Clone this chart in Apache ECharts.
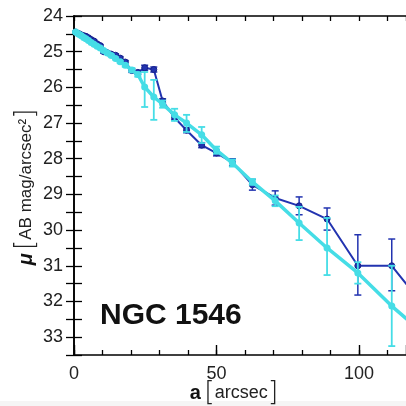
<!DOCTYPE html>
<html>
<head>
<meta charset="utf-8">
<script src="https://cdn.jsdelivr.net/npm/echarts@6/dist/echarts.min.js"></script>
<style>html,body{margin:0;padding:0;background:#fff;}#c{width:406px;height:406px;}</style>
</head>
<body>
<div id="c"></div>
<script>
// Semi-major axis radius (arcsec)
var radius = [0.6,1.2,1.9,2.6,3.4,4.2,5.1,6.0,7.0,8.1,9.2,10.4,11.7,13.1,14.6,16.2,18.0,20.3,22.4,24.8,28.0,31.1,35.3,39.5,44.8,50.0,55.6,62.6,70.6,79.0,88.8,99.6,111.5,122.0];
// Dark blue profile (mu, AB mag/arcsec^2) and error bar limits
var blueMu    = [24.45,24.48,24.50,24.53,24.55,24.57,24.61,24.66,24.70,24.78,24.83,25.00,25.03,25.07,25.10,25.18,25.29,25.53,25.58,25.45,25.50,26.38,26.85,27.20,27.62,27.84,28.10,28.73,29.10,29.32,29.69,31.00,31.00,32.05];
var blueLo    = [24.43,24.46,24.48,24.51,24.53,24.55,24.59,24.64,24.67,24.75,24.80,24.96,24.99,25.03,25.06,25.14,25.25,25.48,25.53,25.38,25.43,26.32,26.79,27.13,27.55,27.76,28.00,28.58,28.90,29.07,29.38,30.13,30.25,null];
var blueHi    = [24.47,24.50,24.52,24.55,24.57,24.59,24.63,24.68,24.73,24.81,24.86,25.04,25.07,25.11,25.14,25.22,25.33,25.58,25.63,25.52,25.57,26.44,26.91,27.27,27.69,27.92,28.20,28.88,29.30,29.57,30.00,31.82,31.70,null];
// Cyan profile and error bar limits
var cyanMu    = [24.45,24.48,24.52,24.55,24.60,24.64,24.69,24.74,24.79,24.85,24.90,24.97,25.04,25.11,25.19,25.28,25.38,25.51,25.64,25.99,26.27,26.47,26.77,27.00,27.33,27.76,28.12,28.65,29.18,29.80,30.50,31.20,32.13,32.85];
var cyanLo    = [24.43,24.46,24.50,24.53,24.58,24.62,24.67,24.72,24.77,24.83,24.88,24.94,25.01,25.08,25.16,25.25,25.34,25.46,25.58,25.57,25.79,26.37,26.60,26.77,27.11,27.66,28.02,28.57,29.03,29.35,29.66,30.90,31.00,null];
var cyanHi    = [24.47,24.50,24.54,24.57,24.62,24.66,24.71,24.76,24.81,24.87,24.92,25.00,25.07,25.14,25.22,25.31,25.42,25.56,25.70,26.55,26.91,26.57,26.94,27.25,27.56,27.86,28.22,28.73,29.33,30.28,31.26,31.50,33.25,null];
var yTicks = [24,25,26,27,28,29,30,31,32,33];
var xTicks = [0,50,100];

var BLUE = '#2233b0', CYAN = '#45dde6';
var FONT = 'Liberation Sans, Arial, sans-serif';

function pts(y){ return radius.map(function(r,i){ return [r, y[i]]; }); }
function errs(lo, hi){
  var out = [];
  radius.forEach(function(r,i){ if (lo[i] != null && hi[i] != null) out.push([r, lo[i], hi[i]]); });
  return out;
}
function errRender(color, cap, lw){
  return function(params, api){
    var x = api.value(0);
    var a = api.coord([x, api.value(1)]);
    var b = api.coord([x, api.value(2)]);
    var st = {stroke: color, lineWidth: lw};
    return {type:'group', children:[
      {type:'line', shape:{x1:a[0],y1:a[1],x2:b[0],y2:b[1]}, style:st},
      {type:'line', shape:{x1:a[0]-cap,y1:a[1],x2:a[0]+cap,y2:a[1]}, style:st},
      {type:'line', shape:{x1:b[0]-cap,y1:b[1],x2:b[0]+cap,y2:b[1]}, style:st}
    ]};
  };
}
function isInt(v){ return Math.abs(v - Math.round(v)) < 1e-6; }

var XMAX = 116.5, YMIN = 24, YMAX = 33.5;
var axisLine = {show:true, lineStyle:{color:'#000', width:1.6}};
var chart = echarts.init(document.getElementById('c'));
chart.setOption({
  animation: false,
  backgroundColor: '#fff',
  grid: {left:74, top:16, width:333, height:339, containLabel:false},
  xAxis: [
    {type:'value', position:'bottom', min:0, max:XMAX, interval:10, splitLine:{show:false},
     axisLine: axisLine,
     axisTick:{inside:true, length:5, lineStyle:{color:'#000', width:1.3}},
     axisLabel:{interval:0, margin:10, color:'#222', fontSize:18, fontFamily:FONT, showMaxLabel:false,
       formatter:function(v){ return xTicks.indexOf(Math.round(v)) >= 0 && isInt(v) ? String(Math.round(v)) : ''; }}},
    {type:'value', position:'bottom', min:0, max:XMAX, interval:50, splitLine:{show:false},
     axisLine:{show:false}, axisTick:{inside:true, length:10, lineStyle:{color:'#000', width:1.4}},
     axisLabel:{show:false}},
    {type:'value', position:'top', min:0, max:XMAX, interval:10, splitLine:{show:false},
     axisLine: axisLine, axisTick:{inside:true, length:5, lineStyle:{color:'#000', width:1.3}},
     axisLabel:{show:false}}
  ],
  yAxis: [
    {type:'value', position:'left', inverse:true, min:YMIN, max:YMAX, interval:0.5, splitLine:{show:false},
     axisLine: axisLine, axisTick:{inside:true, length:8, lineStyle:{color:'#000', width:1.3}},
     axisLabel:{interval:0, margin:11, color:'#222', fontSize:18, fontFamily:FONT,
       formatter:function(v){ return (isInt(v) && yTicks.indexOf(Math.round(v)) >= 0) ? String(Math.round(v)) : ''; }}},
    {type:'value', position:'right', inverse:true, min:YMIN, max:YMAX, interval:0.5, splitLine:{show:false},
     axisLine: axisLine, axisTick:{inside:true, length:8, lineStyle:{color:'#000', width:1.3}},
     axisLabel:{show:false}}
  ],
  series: [
    {type:'custom', name:'blueErr', xAxisIndex:0, yAxisIndex:0, data: errs(blueLo, blueHi),
     encode:{x:0, y:[1,2]}, renderItem: errRender(BLUE, 3.5, 1.5), z:2},
    {type:'line', name:'blue', xAxisIndex:0, yAxisIndex:0, data: pts(blueMu),
     lineStyle:{color:BLUE, width:2}, itemStyle:{color:BLUE, borderColor:'#16208a', borderWidth:1},
     symbol:'circle', symbolSize:6, z:3},
    {type:'custom', name:'cyanErr', xAxisIndex:0, yAxisIndex:0, data: errs(cyanLo, cyanHi),
     encode:{x:0, y:[1,2]}, renderItem: errRender(CYAN, 3.5, 1.8), z:4},
    {type:'line', name:'cyan', xAxisIndex:0, yAxisIndex:0, data: pts(cyanMu),
     lineStyle:{color:CYAN, width:3.5}, itemStyle:{color:CYAN},
     symbol:'circle', symbolSize:7, z:5}
  ],
  graphic: [
    {type:'rect', left:0, top:401, shape:{width:406, height:5}, style:{fill:'#f5f5f5'}, z:-1},
    {type:'text', x:100, y:316, style:{text:'NGC 1546', font:'bold 30px ' + FONT, fill:'#111', verticalAlign:'middle', align:'left'}, z:10},
    {type:'text', x:234, y:393, style:{
       text:'{b|a} {br|[}{n|arcsec}{br|]}', align:'center', verticalAlign:'middle',
       rich:{ b:{font:'bold 20px ' + FONT, fill:'#111'}, br:{font:'200 27px DejaVu Sans, sans-serif', fill:'#222'}, n:{font:'18px ' + FONT, fill:'#222'} }}, z:10},
    {type:'text', x:26, y:187, rotation:Math.PI/2, style:{
       text:'{b|μ} {br|[}{n|AB mag/arcsec²}{br|]}', align:'center', verticalAlign:'middle',
       rich:{ b:{font:'bold italic 20px ' + FONT, fill:'#111'}, br:{font:'200 26px DejaVu Sans, sans-serif', fill:'#222'}, n:{font:'17px ' + FONT, fill:'#222'} }}, z:10}
  ]
});
</script>
</body>
</html>
